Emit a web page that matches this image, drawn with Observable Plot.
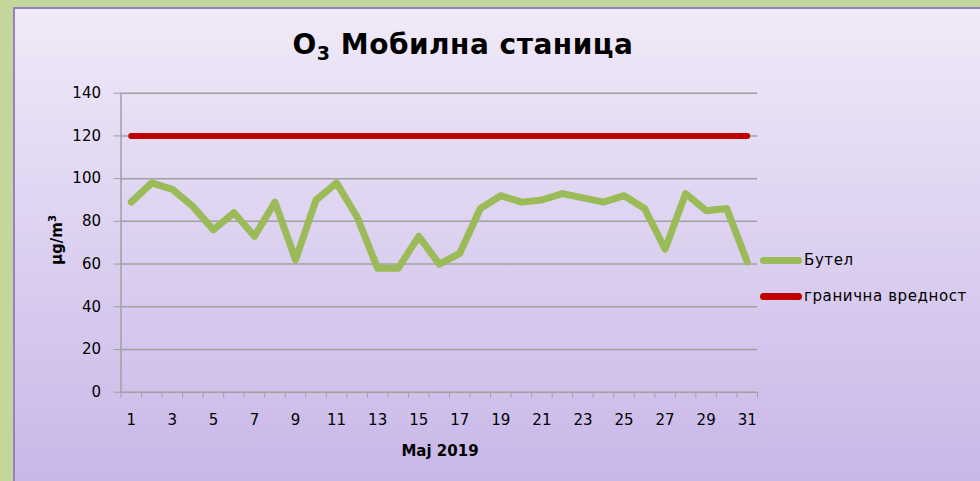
<!DOCTYPE html>
<html><head><meta charset="utf-8">
<script src="https://cdn.jsdelivr.net/npm/d3@7"></script>
<script src="https://cdn.jsdelivr.net/npm/@observablehq/plot@0.6"></script>
<style>
html,body{margin:0;padding:0;}
body{width:980px;height:481px;overflow:hidden;position:relative;background:#c3d69b;font-family:"DejaVu Sans",sans-serif;color:#000;}
#panel{position:absolute;left:13px;top:7px;width:967px;height:474px;border-left:2px solid #9a7fc6;border-top:2px solid #9a7fc6;background:linear-gradient(#f0eaf8,#c9b7e8);box-sizing:border-box;}
#chart{position:absolute;left:0;top:0;}
#title{position:absolute;left:0;width:926px;top:28px;text-align:center;font-weight:bold;font-size:28px;letter-spacing:0.5px;}
#title sub{font-size:19px;vertical-align:-6px;line-height:0;}
#ylab{position:absolute;left:57px;top:240px;transform:translate(-50%,-50%) rotate(-90deg);font-weight:bold;font-size:15px;white-space:nowrap;}
#ylab sup{font-size:10px;vertical-align:6px;line-height:0;}
#xlab{position:absolute;left:440px;top:442px;transform:translateX(-50%);font-weight:bold;font-size:15px;white-space:nowrap;}
.leg{position:absolute;left:760px;font-size:15px;white-space:nowrap;display:flex;align-items:center;letter-spacing:0.6px;}
.sw{width:42px;height:7px;border-radius:4px;margin-right:2px;}
</style></head>
<body>
<div id="panel"></div>
<div id="chart"></div>
<div id="title">O<sub>3</sub> Мобилна станица</div>
<div id="ylab">µg/m<sup>3</sup></div>
<div id="xlab">Maj 2019</div>
<div id="legend"></div>
<script>
const days = [1,2,3,4,5,6,7,8,9,10,11,12,13,14,15,16,17,18,19,20,21,22,23,24,25,26,27,28,29,30,31];
const butel = [89,98,95,87,76,84,73,89,62,90,98,82,58,58,73,60,65,86,92,89,90,93,91,89,92,86,67,93,85,86,61];
const limitValue = [120,120,120,120,120,120,120,120,120,120,120,120,120,120,120,120,120,120,120,120,120,120,120,120,120,120,120,120,120,120,120];
const yTicks = [0,20,40,60,80,100,120,140];
const xLabelTicks = [1,3,5,7,9,11,13,15,17,19,21,23,25,27,29,31];
const seriesNames = ["Бутел","гранична вредност"];
const seriesColors = ["#9bbb59","#c00000"];

const data = days.map((d,i)=>({day:d, butel:butel[i], limit:limitValue[i]}));
const boundaries = [0].concat(days).map(d => d + 0.5);

const chart = Plot.plot({
  width: 980, height: 481,
  marginLeft: 120.5, marginRight: 223, marginTop: 92.7, marginBottom: 89.3,
  style: {background:"transparent", fontFamily:"DejaVu Sans, sans-serif", fontSize:"15px", color:"#000"},
  x: {type:"linear", domain:[0.5,31.5]},
  y: {domain:[0,140]},
  marks: [
    Plot.gridY(yTicks.filter(v=>v>0), {stroke:"#a0a0a0", strokeOpacity:1, strokeWidth:1.5}),
    Plot.ruleY([0], {stroke:"#a0a0a0", strokeWidth:1.5}),
    Plot.ruleX([0.5], {stroke:"#a0a0a0", strokeWidth:1.5}),
    Plot.axisY({ticks:yTicks, tickSize:7, tickPadding:13, stroke:"#a0a0a0", label:null, fontSize:15}),
    Plot.axisX({ticks:boundaries, tickSize:6, tickFormat:()=>"", stroke:"#a0a0a0", label:null}),
    Plot.axisX({ticks:xLabelTicks, tickSize:0, tickPadding:22, tickFormat:d=>String(d), label:null, fontSize:15}),
    Plot.line(data, {x:"day", y:"limit", stroke:seriesColors[1], strokeWidth:6, strokeLinecap:"round"}),
    Plot.line(data, {x:"day", y:"butel", stroke:seriesColors[0], strokeWidth:7, strokeLinecap:"round", strokeLinejoin:"round"})
  ]
});
document.getElementById("chart").appendChild(chart);

const legend = document.getElementById("legend");
const legTops = [251, 287];
seriesNames.forEach((n,i)=>{
  const row = document.createElement("div");
  row.className = "leg";
  row.style.top = legTops[i] + "px";
  row.innerHTML = `<div class="sw" style="background:${seriesColors[i]}"></div><span>${n}</span>`;
  legend.appendChild(row);
});
</script>
</body></html>
